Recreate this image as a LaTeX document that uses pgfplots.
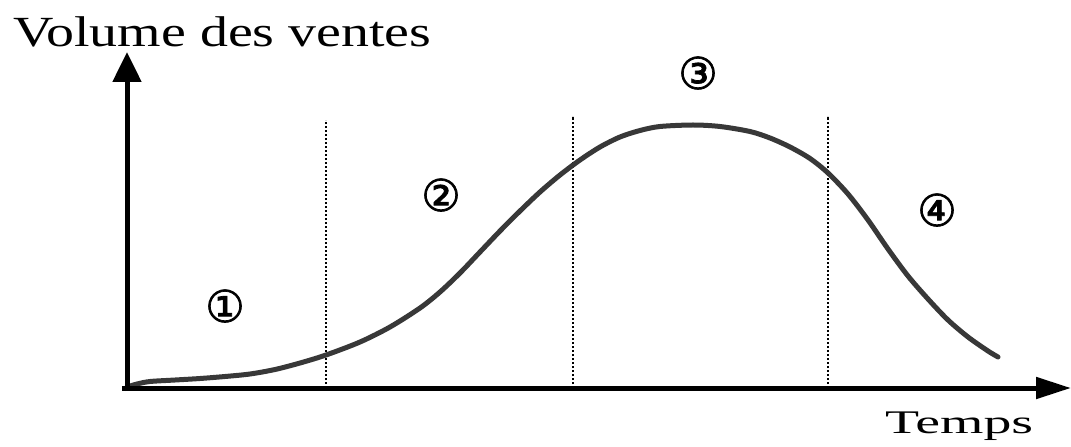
\documentclass[border=0pt]{standalone}
\usepackage{pgfplots}
\pgfplotsset{compat=1.18}
\usepackage{fontspec}
\setmainfont{Liberation Serif}
\newfontfamily\dejavu[FakeBold=1.6]{DejaVu Sans}
\usetikzlibrary{arrows.meta}
\begin{document}
\begin{tikzpicture}
\begin{axis}[
  scale only axis, width=1071bp, height=446bp,
  xmin=-127, xmax=944, ymin=-58, ymax=388,
  hide axis, clip=false,
]
\coordinate (bl) at (axis cs:-127,-58);
\coordinate (tr) at (axis cs:944,388);
% phase separators
\addplot[black, line width=1.5bp, dash pattern=on 2.5bp off 1.5bp] coordinates {(199,0) (199,268)};
\addplot[black, line width=1.5bp, dash pattern=on 2.5bp off 1.5bp] coordinates {(446,0) (446,272)};
\addplot[black, line width=1.5bp, dash pattern=on 2.5bp off 1.5bp] coordinates {(701,0) (701,272)};
% sales curve
\addplot[smooth, line width=5bp, color=black!78, line cap=round] table {
t v
0 1
10 4
23 6.5
48 8
73 9.5
98 11.5
123 14
148 18.5
173 25
199 33
233 46
263 61
293 80
313 96
333 115
353 136
373 157
393 177
413 196
433 213
453 228
473 241
493 251
513 257.5
533 261.5
566 263
593 261.5
623 256.5
643 250
663 241
683 229.5
701 215
721 194
741 168
761 139
781 112
801 89
821 68
841 51
861 37
871 31
};
% axes
\draw[line width=5bp, -{Triangle[length=35bp,width=21bp]}] (axis cs:-5,0) -- (axis cs:944,0);
\draw[line width=5bp, -{Triangle[length=30bp,width=28bp]}] (axis cs:0,-3) -- (axis cs:0,336);
% labels
\node[anchor=base west, inner sep=0pt] at (axis cs:-114,341)
  {\scalebox{1.3}[1]{\fontsize{43bp}{50bp}\selectfont Volume des ventes}};
\node[anchor=base west, inner sep=0pt] at (axis cs:758,-45)
  {\scalebox{1.69}[1]{\fontsize{33bp}{40bp}\selectfont Temps}};
\node[inner sep=0pt] at (axis cs:98,82) {\dejavu\fontsize{44bp}{48bp}\selectfont ①};
\node[inner sep=0pt] at (axis cs:314,193) {\dejavu\fontsize{44bp}{48bp}\selectfont ②};
\node[inner sep=0pt] at (axis cs:571,315) {\dejavu\fontsize{44bp}{48bp}\selectfont ③};
\node[inner sep=0pt] at (axis cs:810,178) {\dejavu\fontsize{44bp}{48bp}\selectfont ④};
\end{axis}
\pgfresetboundingbox
\path (bl) rectangle (tr);
\end{tikzpicture}
\end{document}
